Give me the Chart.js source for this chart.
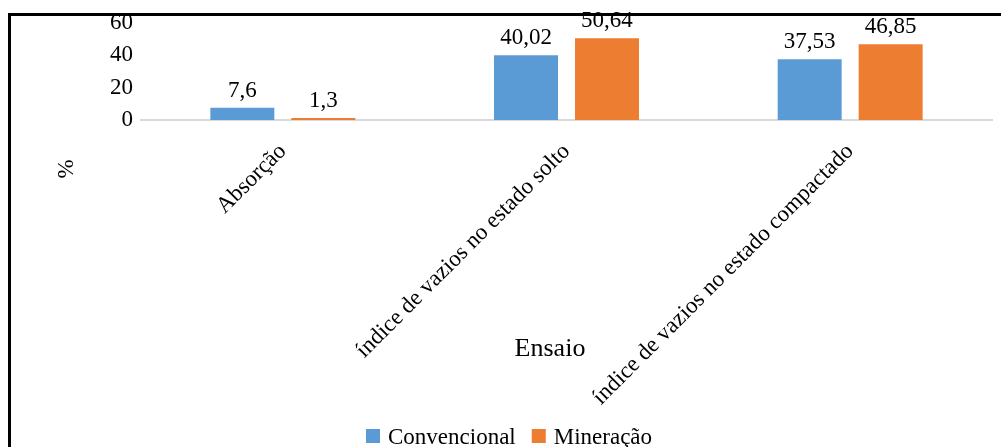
<!DOCTYPE html>
<html>
<head>
<meta charset="utf-8">
<script src="https://cdn.jsdelivr.net/npm/chart.js@4/dist/chart.umd.min.js"></script>
<style>
  html, body { margin: 0; padding: 0; background: #fff; overflow: hidden; }
  #wrap { width: 1001px; height: 447px; position: relative; }
</style>
</head>
<body>
<div id="wrap"><canvas id="c" width="1001" height="447"></canvas></div>
<script>
// Categories (tests) and the two aggregate series, in %
const categories = ['Absorção', 'índice de vazios no estado solto', 'índice de vazios no estado compactado'];
const convencional = [7.6, 40.02, 37.53];
const mineracao = [1.3, 50.64, 46.85];
const seriesNames = ['Convencional', 'Mineração'];
const seriesColors = ['#5B9BD5', '#ED7D31'];
const yTicks = [0, 20, 40, 60];
const xTitle = 'Ensaio';
const yTitle = '%';

const FONT = "'Liberation Serif', 'Times New Roman', serif";

const fmt = v => String(v).replace('.', ',');

// Value labels above bars, axis titles, legend and the outer frame
const decorations = {
  id: 'decorations',
  afterDraw(chart) {
    const ctx = chart.ctx;
    ctx.save();

    // value labels
    ctx.fillStyle = '#000';
    ctx.font = '23px ' + FONT;
    ctx.textAlign = 'center';
    ctx.textBaseline = 'alphabetic';
    chart.data.datasets.forEach((ds, di) => {
      const meta = chart.getDatasetMeta(di);
      meta.data.forEach((bar, i) => {
        ctx.fillText(fmt(ds.data[i]), bar.x, bar.y - 11);
      });
    });

    // x axis title
    ctx.font = '26px ' + FONT;
    ctx.textAlign = 'center';
    ctx.textBaseline = 'middle';
    ctx.fillText(xTitle, 550, 349);

    // y axis title (rotated)
    ctx.save();
    ctx.translate(67, 169);
    ctx.rotate(-Math.PI / 2);
    ctx.font = '23px ' + FONT;
    ctx.fillText(yTitle, 0, 0);
    ctx.restore();

    // legend
    ctx.font = '23px ' + FONT;
    ctx.textAlign = 'left';
    ctx.textBaseline = 'alphabetic';
    let x = 366;
    seriesNames.forEach((name, i) => {
      ctx.fillStyle = seriesColors[i];
      ctx.fillRect(x, 429, 14, 14);
      ctx.fillStyle = '#000';
      ctx.fillText(name, x + 22, 444);
      x += 22 + ctx.measureText(name).width + 16;
    });

    // outer frame
    ctx.strokeStyle = '#000';
    ctx.lineWidth = 3;
    ctx.strokeRect(9.5, 14.5, 1200, 1000);
    ctx.restore();
  }
};

new Chart(document.getElementById('c'), {
  type: 'bar',
  data: {
    labels: categories,
    datasets: [
      { label: seriesNames[0], data: convencional, backgroundColor: seriesColors[0],
        categoryPercentage: 0.571, barPercentage: 0.79 },
      { label: seriesNames[1], data: mineracao, backgroundColor: seriesColors[1],
        categoryPercentage: 0.571, barPercentage: 0.79 }
    ]
  },
  options: {
    responsive: false,
    animation: false,
    devicePixelRatio: 1,
    layout: { padding: { top: 23, right: 9, bottom: 0, left: 0 } },
    plugins: {
      legend: { display: false },
      tooltip: { enabled: false },
      title: { display: false }
    },
    scales: {
      x: {
        grid: { display: false },
        border: { display: true, color: '#D9D9D9', width: 2 },
        ticks: {
          color: '#000',
          font: { family: FONT, size: 23 },
          minRotation: 45,
          maxRotation: 45,
          autoSkip: false,
          padding: 10
        },
        afterFit(scale) { scale.height = 447 - 120; }
      },
      y: {
        min: 0,
        max: 60,
        afterBuildTicks(scale) { scale.ticks = yTicks.map(v => ({ value: v })); },
        grid: { display: false, drawTicks: false },
        border: { display: false },
        ticks: {
          color: '#000',
          font: { family: FONT, size: 23 },
          padding: 8
        },
        afterFit(scale) { scale.width = 141; }
      }
    }
  },
  plugins: [decorations]
});
</script>
</body>
</html>
